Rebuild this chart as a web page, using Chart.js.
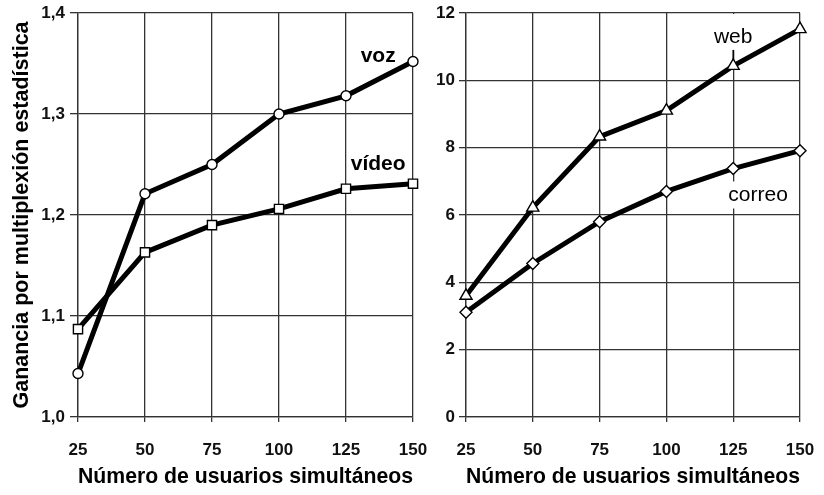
<!DOCTYPE html>
<html><head><meta charset="utf-8">
<script src="https://cdn.jsdelivr.net/npm/chart.js@4.4.0/dist/chart.umd.min.js"></script>
<style>
html,body{margin:0;padding:0;background:#fff;}
#wrap{position:relative;width:824px;height:495px;overflow:hidden;background:#fff;}
#c1box{position:absolute;left:0;top:0;width:430px;height:495px;}
#c2box{position:absolute;left:430px;top:0;width:394px;height:495px;}
</style></head><body>
<div id="wrap"><div id="c1box"><canvas id="c1"></canvas></div><div id="c2box"><canvas id="c2"></canvas></div></div>
<script>
// ---- data ----
const usuarios = [25, 50, 75, 100, 125, 150];
const voz = [1.043, 1.221, 1.250, 1.300, 1.318, 1.352];
const video = [1.087, 1.163, 1.190, 1.206, 1.226, 1.231];
const web = [3.60, 6.22, 8.33, 9.10, 10.43, 11.52];
const correo = [3.11, 4.56, 5.80, 6.70, 7.38, 7.91];
const ticksGanancia = [1.0, 1.1, 1.2, 1.3, 1.4];
const ticksDerecha = [0, 2, 4, 6, 8, 10, 12];
const xTitle = 'Número de usuarios simultáneos';
const yTitleLeft = 'Ganancia por multiplexión estadística';
const seriesNames = ['voz', 'vídeo', 'web', 'correo'];

// ---- labels (anchored in data units) ----
const labelsLeft = [
  {text: seriesNames[0], x: 137, y: 1.357, bold: true},
  {text: seriesNames[1], x: 137, y: 1.2505, bold: true}
];
const labelsRight = [
  {text: seriesNames[2], x: 125, y: 11.29, bold: false, pointer: web[4], clearTop: true},
  {text: seriesNames[3], x: 134.3, y: 6.58, bold: false}
];

const FONT = '"Liberation Sans", Arial, Helvetica, sans-serif';
const GRID = '#333';

const labelPlugin = {
  id: 'seriesLabels',
  beforeDatasetsDraw(chart, args, opts) {
    const {ctx, chartArea} = chart;
    const xs = chart.scales.x, ys = chart.scales.y;
    const items = opts.items || [];
    ctx.save();
    items.forEach(it => {
      ctx.font = (it.bold ? 'bold ' : '') + '21px ' + FONT;
      const w = ctx.measureText(it.text).width;
      const cx = xs.getPixelForValue(it.x), cy = ys.getPixelForValue(it.y);
      const h = 16;
      let top = cy - h / 2 - 6, bottom = cy + h / 2 + 5;
      if (it.clearTop) top = chartArea.top + 1;
      ctx.fillStyle = '#fff';
      ctx.fillRect(cx - w / 2 - 3, top, w + 6, bottom - top);
      ctx.fillStyle = '#000';
      ctx.textAlign = 'center';
      ctx.textBaseline = 'middle';
      ctx.fillText(it.text, cx, cy);
      if (it.pointer !== undefined) {
        ctx.strokeStyle = '#000';
        ctx.lineWidth = 1.5;
        ctx.beginPath();
        ctx.moveTo(cx, bottom);
        ctx.lineTo(cx, ys.getPixelForValue(it.pointer));
        ctx.stroke();
      }
    });
    ctx.restore();
  }
};

function pts(arr) { return usuarios.map((u, i) => ({x: u, y: arr[i]})); }

function ds(arr, style) {
  return {
    data: pts(arr), borderColor: '#000', borderWidth: 5, tension: 0, clip: false,
    pointStyle: style, pointRadius: style === 'rect' ? 6.5 : (style === 'triangle' ? 7 : (style === 'rectRot' ? 6 : 5)),
    pointBackgroundColor: '#fff', pointBorderColor: '#000', pointBorderWidth: 1.4
  };
}

function xScale() {
  return {
    type: 'linear', min: usuarios[0], max: usuarios[usuarios.length - 1],
    afterBuildTicks: s => { s.ticks = usuarios.map(v => ({value: v})); },
    afterFit: s => { s.height = 78; s.paddingLeft = 0; s.paddingRight = 0; },
    grid: {color: GRID, lineWidth: 1.3, tickLength: 5, drawTicks: true},
    border: {color: GRID, width: 1.3},
    ticks: {color: '#111', padding: 18, maxRotation: 0, font: {family: FONT, size: 17, weight: 'bold'}},
    title: {display: true, text: xTitle, color: '#000', padding: {top: 0, bottom: 5}, font: {family: FONT, size: 22, weight: 'bold'}}
  };
}

function makeChart(id, datasets, yCfg, padding, items) {
  return new Chart(document.getElementById(id), {
    type: 'line',
    data: {datasets},
    options: {
      responsive: true, maintainAspectRatio: false, animation: false,
      layout: {padding},
      plugins: {legend: {display: false}, tooltip: {enabled: false}, seriesLabels: {items}},
      scales: {x: xScale(), y: yCfg}
    },
    plugins: [labelPlugin]
  });
}

makeChart('c1', [ds(voz, 'circle'), ds(video, 'rect')], {
  type: 'linear', min: ticksGanancia[0], max: ticksGanancia[ticksGanancia.length - 1],
  afterBuildTicks: s => { s.ticks = ticksGanancia.map(v => ({value: v})); },
  afterFit: s => { s.width = 78; s.paddingTop = 0; s.paddingBottom = 0; },
  grid: {color: GRID, lineWidth: 1.3, tickLength: 8},
  border: {color: GRID, width: 1.3},
  ticks: {color: '#111', padding: 5, font: {family: FONT, size: 17, weight: 'bold'},
    callback: v => v.toFixed(1).replace('.', ',')},
  title: {display: true, text: yTitleLeft, color: '#000', padding: {top: 9, bottom: 0}, font: {family: FONT, size: 21.5, weight: 'bold'}}
}, {top: 13, right: 17, bottom: 0, left: 0}, labelsLeft);

makeChart('c2', [ds(web, 'triangle'), ds(correo, 'rectRot')], {
  type: 'linear', min: ticksDerecha[0], max: ticksDerecha[ticksDerecha.length - 1],
  afterBuildTicks: s => { s.ticks = ticksDerecha.map(v => ({value: v})); },
  afterFit: s => { s.width = 36; s.paddingTop = 0; s.paddingBottom = 0; },
  grid: {color: GRID, lineWidth: 1.3, tickLength: 7},
  border: {color: GRID, width: 1.3},
  ticks: {color: '#111', padding: 4, font: {family: FONT, size: 17, weight: 'bold'}}
}, {top: 13, right: 24, bottom: 0, left: 0}, labelsRight);
</script>
</body></html>
